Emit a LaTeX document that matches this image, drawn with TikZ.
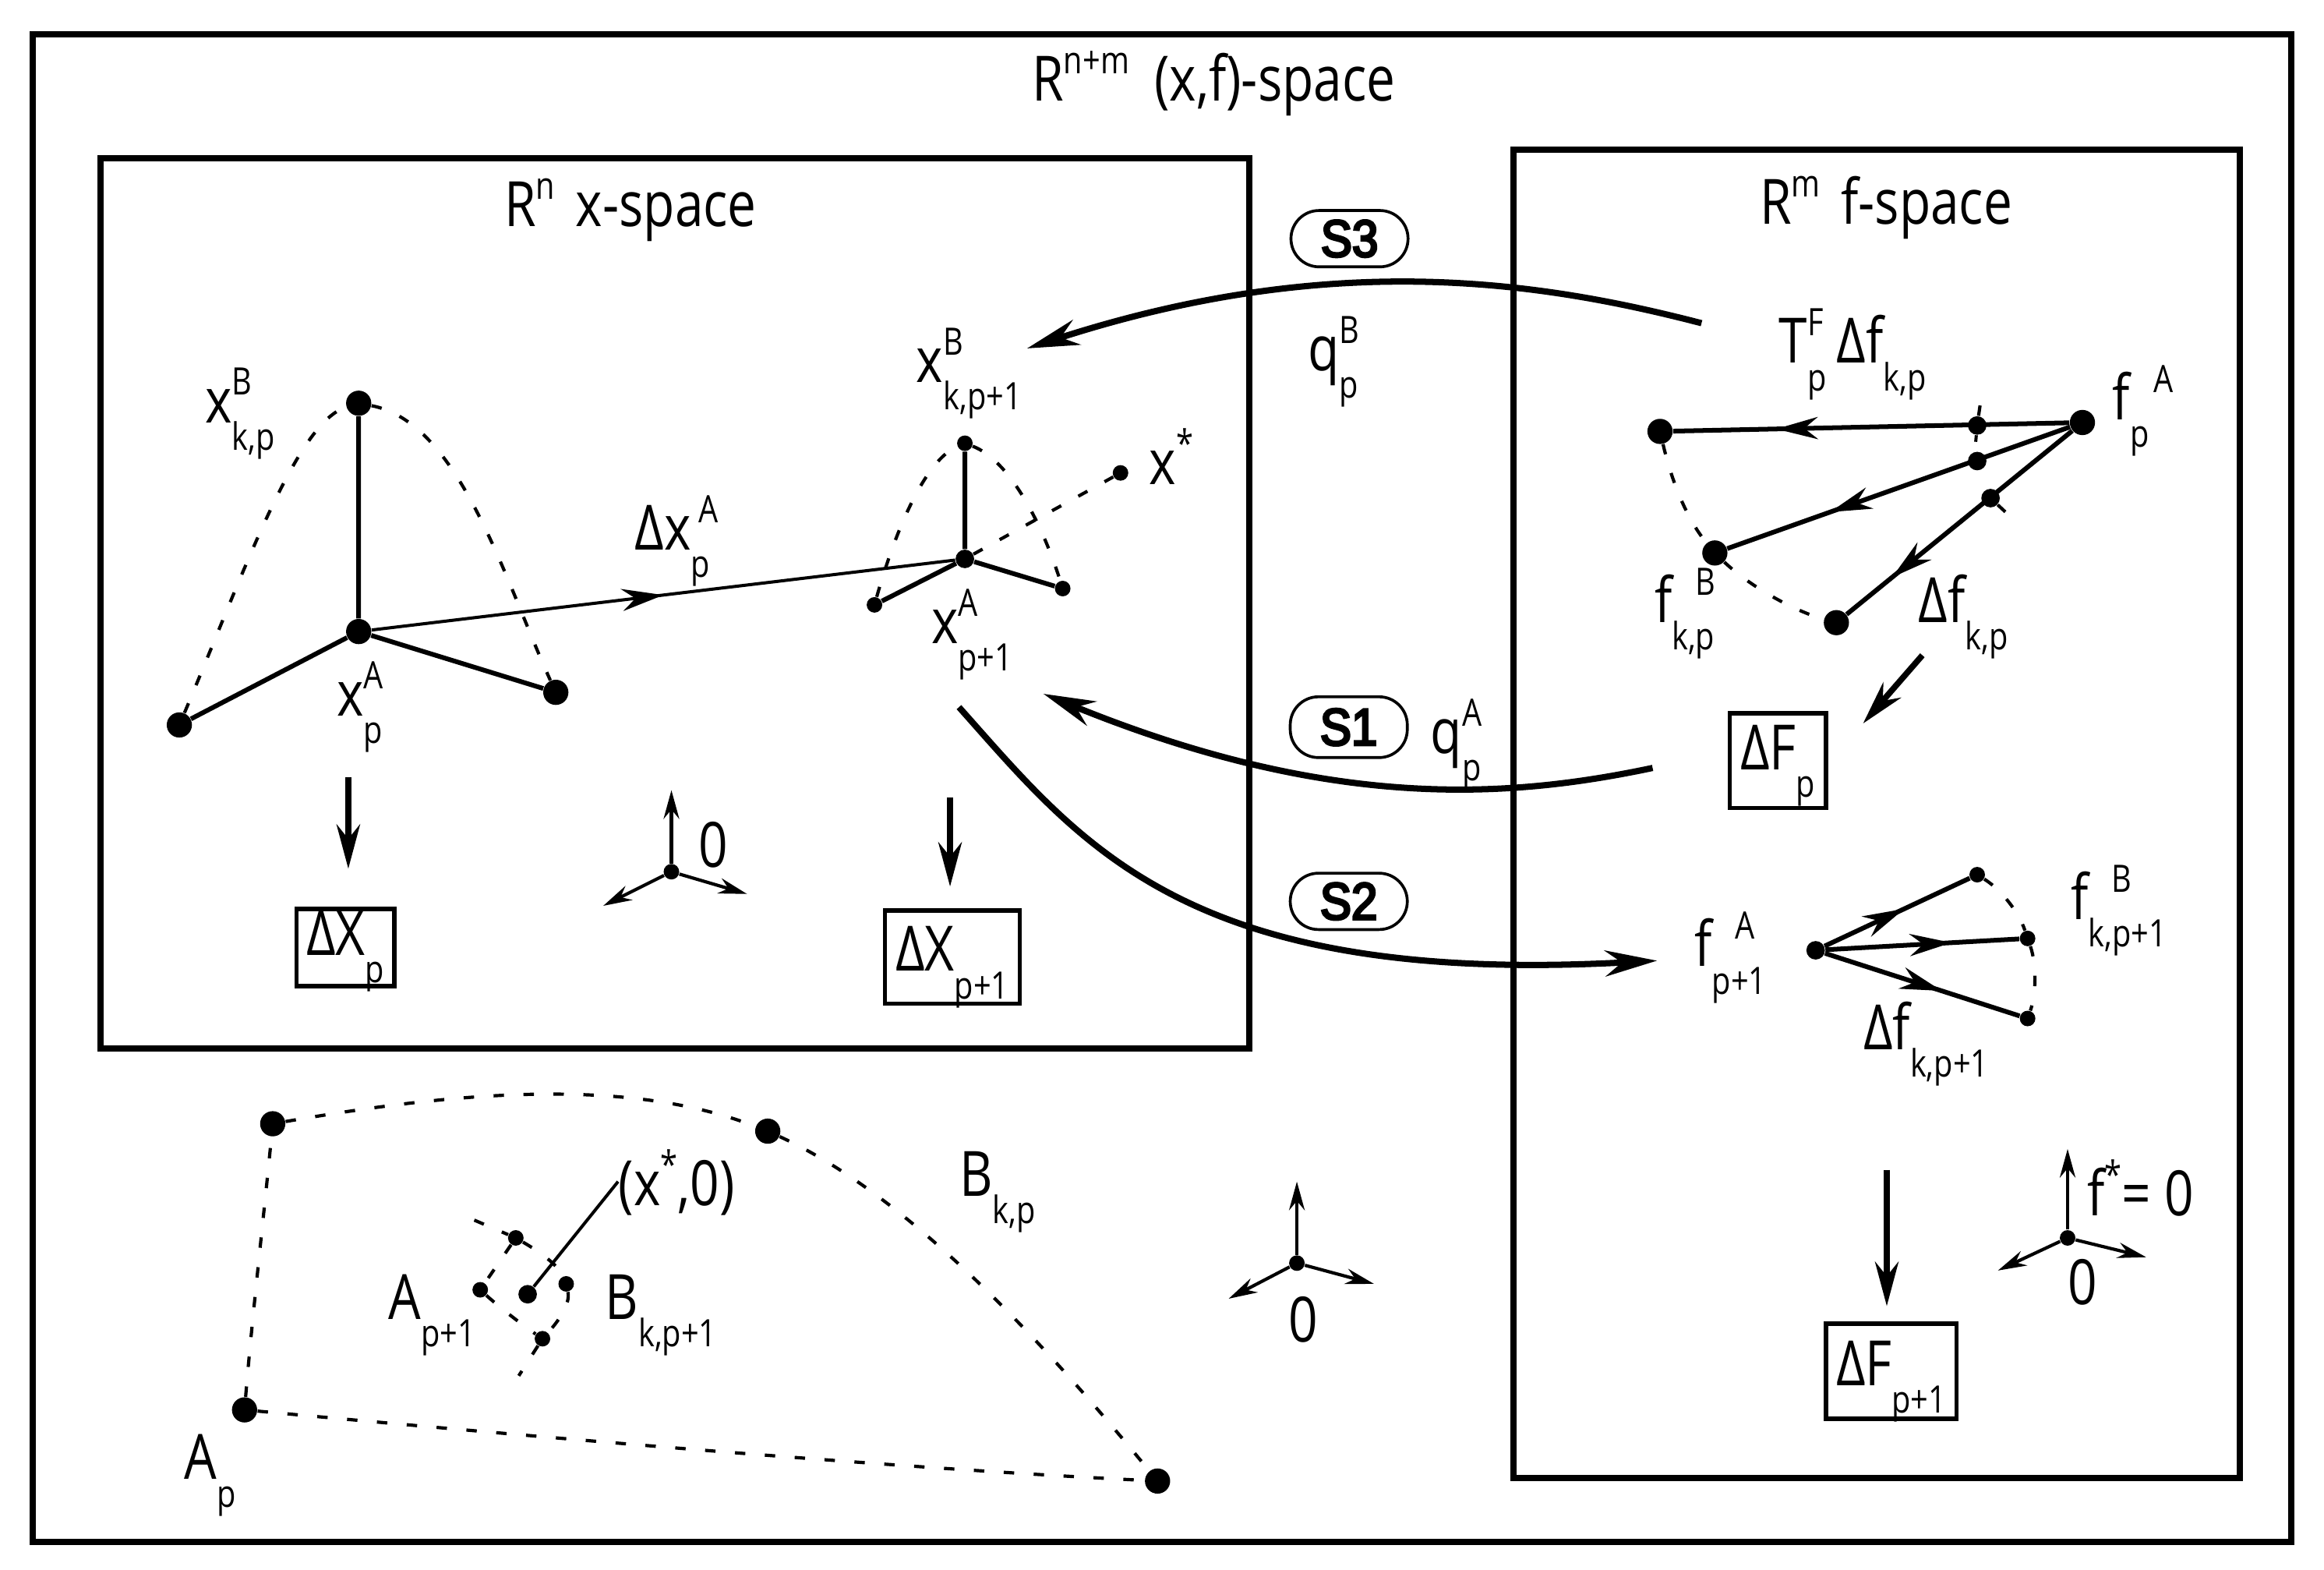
\documentclass[tikz,border=0pt]{standalone}
\usepackage{fontspec}
\setmainfont[FakeStretch=0.82]{Open Sans}
\newfontfamily\pillf[FakeStretch=0.9,FakeBold=4.5]{Liberation Sans}
\usetikzlibrary{arrows.meta,decorations.markings,calc}
\newcommand{\bigfs}{\fontsize{24}{24}\selectfont}
\newcommand{\smfs}{\fontsize{14.5}{14.5}\selectfont}
\newcommand{\lab}[4][0pt]{#2\rlap{\hspace{#1}\raisebox{10.5pt}{\smfs #3}}\raisebox{-10.5pt}{\smfs #4}}
\newcommand{\boxtxt}[2]{\raisebox{-#1}[0pt][0pt]{#2}}
\tikzset{
 x=0.02cm,y=-0.02cm,
 txt/.style={inner sep=0pt,anchor=base west,font=\bigfs},
 frame/.style={draw,line width=2.4pt,inner sep=0pt},
 tbox/.style={draw,line width=1.7pt,inner sep=0pt,font=\bigfs,align=center},
 pill/.style={draw,line width=1.1pt,rounded corners=0.38cm,minimum width=1.58cm,minimum height=0.76cm,inner sep=0pt,font=\fontsize{20}{20}\pillf},
 dotL/.style={circle,fill=black,inner sep=0pt,minimum size=0.34cm},
 dotM/.style={circle,fill=black,inner sep=0pt,minimum size=0.25cm},
 dotS/.style={circle,fill=black,inner sep=0pt,minimum size=0.21cm},
 dash7/.style={line width=1.25pt,dash pattern=on 4pt off 7.5pt},
 legline/.style={line width=1.8pt},
 thin1/.style={line width=1.2pt},
 midarrow/.style={postaction={decorate},decoration={markings,mark=at position #1 with {\arrow{Stealth[length=16pt,width=8.5pt]}}}},
 bigcurve/.style={line width=2.4pt,-{Stealth[length=20pt,width=10pt]}},
 downarrow/.style={line width=2.3pt,-{Stealth[length=17pt,width=9pt]}},
 axis/.style={line width=1.25pt,-{Stealth[length=11pt,width=6pt]}},
}
\begin{document}
\begin{tikzpicture}
\useasboundingbox (0,0) rectangle (1568,1058.5);
% frames
\node[frame,minimum width=1524*0.02cm,minimum height=1017*0.02cm] (outer) at (784,531.5) {};
\node[frame,minimum width=775*0.02cm,minimum height=600*0.02cm] (xsp) at (455.5,407) {};
\node[frame,minimum width=490*0.02cm,minimum height=896*0.02cm] (fsp) at (1266,549) {};
% titles
\node[txt] (t0) at (696,68) {R\raisebox{10.5pt}{\smfs n+m}\hspace{0.4em}(x,f)-space};
\node[txt] (t1) at (340,153) {R\raisebox{10.5pt}{\smfs n}\hspace{0.33em}x-space};
\node[txt] (t2) at (1187,151) {R\raisebox{10.5pt}{\smfs m}\hspace{0.33em}f-space};
% x simplex p
\node[dotL] (xa) at (242,426) {};
\node[dotL] (xt) at (242,272) {};
\node[dotL] (xl) at (121,489) {};
\node[dotL] (xr) at (375,467) {};
\draw[legline] (xa)--(xt) (xa)--(xl) (xa)--(xr);
\draw[dash7] (xl) .. controls (165,385) and (200,285) .. (xt);
\draw[dash7] (xt) .. controls (310,285) and (340,390) .. (xr);
% x simplex p+1
\node[dotM] (ya) at (651,377) {};
\node[dotS] (yt) at (651,299) {};
\node[dotS] (yl) at (590,408) {};
\node[dotS] (yr) at (717,397) {};
\node[dotS] (xs) at (756,319) {};
\draw[legline] (ya)--(yt) (ya)--(yl) (ya)--(yr);
\draw[dash7] (yl) .. controls (605,355) and (625,310) .. (yt);
\draw[dash7] (yt) .. controls (680,310) and (702,350) .. (yr);
\draw[dash7] (ya)--(xs);
\draw[thin1,midarrow=0.5] (xa)--(ya);
% x labels
\node[txt] (l1) at (138,285) {\lab{x}{B}{k,p}};
\node[txt] (l2) at (227,483) {\lab{x}{A}{p}};
\node[txt] (l3) at (428,371) {\lab[3pt]{Δx}{A}{p}};
\node[txt] (l4) at (618,258) {\lab{x}{B}{k,p+1}};
\node[txt] (l5) at (628,434) {\lab{x}{A}{p+1}};
\node[txt] (l6) at (775,327) {x\raisebox{10.5pt}{\smfs *}};
% boxes x
\coordinate (d1a) at (235,524); \coordinate (d1b) at (235,586);
\coordinate (d2a) at (641,538); \coordinate (d2b) at (641,598);
\draw[downarrow] (d1a)--(d1b);
\draw[downarrow] (d2a)--(d2b);
\node[tbox,minimum width=66*0.02cm,minimum height=52*0.02cm] (bx1) at (233,639) {\boxtxt{3pt}{\lab{ΔX}{}{p}}};
\node[tbox,minimum width=91*0.02cm,minimum height=63*0.02cm] (bx2) at (642.5,645.5) {\boxtxt{5.5pt}{\lab{ΔX}{}{p+1}}};
% axes 0 in x
\node[dotS] (o1) at (453,588) {};
\coordinate (o1u) at (453,533); \coordinate (o1l) at (407,611); \coordinate (o1r) at (504,603);
\draw[axis] (o1)--(o1u); \draw[axis] (o1)--(o1l); \draw[axis] (o1)--(o1r);
\node[txt] (l7) at (471,585) {0};
% S labels
\node[pill] (s3) at (910.5,161) {S3};
\node[pill,minimum height=0.82cm] (s1) at (910,490.5) {S1};
\node[pill] (s2) at (910,608) {S2};
% big curves
\coordinate (c3a) at (1148,218); \coordinate (c3b) at (693,235);
\coordinate (c1a) at (1115,518); \coordinate (c1b) at (704,468);
\coordinate (c2a) at (647,477); \coordinate (c2b) at (1118,648);
\draw[bigcurve] (c3a) .. controls (1040,190) and (900,168) .. (c3b);
\draw[bigcurve] (c1a) .. controls (1020,538) and (900,548) .. (c1b);
\draw[bigcurve] (c2a) .. controls (730,570) and (800,665) .. (c2b);
\node[txt] (q1) at (882,250) {\lab{q}{B}{p}};
\node[txt] (q2) at (965,508) {\lab{q}{A}{p}};
% f simplex p
\node[dotL] (fa) at (1405,285) {};
\node[dotL] (f1) at (1120,291) {};
\node[dotL] (f2) at (1157,373) {};
\node[dotL] (f3) at (1239,420) {};
\node[dotM] (m1) at (1334,287) {};
\node[dotM] (m2) at (1334,311) {};
\node[dotM] (m3) at (1343,336) {};
\draw[legline,midarrow=0.74] (fa)--(f1);
\draw[legline,midarrow=0.7] (fa)--(f2);
\draw[legline,midarrow=0.8] (fa)--(f3);
\draw[dash7] (f1) .. controls (1128,325) and (1138,350) .. (f2);
\draw[dash7] (f2) .. controls (1180,395) and (1210,412) .. (f3);
\coordinate (e1) at (1337,266); \coordinate (e2) at (1358,350); \coordinate (e3) at (1333,298);
\draw[dash7] (m1)--(e1);
\draw[thin1] (m1)--(e3);
\draw[dash7] (m3)--(e2);
\node[txt] (l8) at (1200,245) {\lab{T}{F}{p}\hspace{4pt}\lab{Δf}{}{k,p}};
\node[txt] (l9) at (1425,283) {\lab[9pt]{f}{A}{p}};
\node[txt] (l10) at (1116,420) {\lab[9pt]{f}{B}{k,p}};
\node[txt] (l11) at (1294,420) {\lab{Δf}{}{k,p}};
\coordinate (d3a) at (1297,442); \coordinate (d3b) at (1257,488);
\draw[downarrow] (d3a)--(d3b);
\node[tbox,minimum width=65*0.02cm,minimum height=64*0.02cm] (bf1) at (1199.5,513) {\boxtxt{3.5pt}{\lab{ΔF}{}{p}}};
% f simplex p+1
\node[dotM] (ga) at (1225,641) {};
\node[dotS] (g1) at (1334,590) {};
\node[dotS] (g2) at (1368,633) {};
\node[dotS] (g3) at (1368,687) {};
\draw[legline,midarrow=0.55] (ga)--(g1);
\draw[legline,midarrow=0.65] (ga)--(g2);
\draw[legline,midarrow=0.6] (ga)--(g3);
\draw[dash7] (g1) .. controls (1350,600) and (1362,615) .. (g2);
\draw[dash7] (g2) .. controls (1374,650) and (1374,670) .. (g3);
\node[txt] (l12) at (1143,652) {\lab[9pt]{f}{A}{p+1}};
\node[txt] (l13) at (1397,620) {\lab[9pt]{f}{B}{k,p+1}};
\node[txt] (l14) at (1257,708) {\lab{Δf}{}{k,p+1}};
\coordinate (d4a) at (1273,789); \coordinate (d4b) at (1273,881);
\draw[downarrow] (d4a)--(d4b);
\node[tbox,minimum width=88*0.02cm,minimum height=64*0.02cm] (bf2) at (1276,925) {\boxtxt{5.5pt}{\lab{ΔF}{}{p+1}}};
\node[dotS] (o3) at (1395,835) {};
\coordinate (o3u) at (1395,775); \coordinate (o3l) at (1348,857); \coordinate (o3r) at (1448,848);
\draw[axis] (o3)--(o3u); \draw[axis] (o3)--(o3l); \draw[axis] (o3)--(o3r);
\node[txt] (l15) at (1408,820) {f\raisebox{10.5pt}{\smfs *}= 0};
\node[txt] (l16) at (1395,880) {0};
% middle axes
\node[dotS] (o2) at (875,852) {};
\coordinate (o2u) at (875,797); \coordinate (o2l) at (829,876); \coordinate (o2r) at (927,866);
\draw[axis] (o2)--(o2u); \draw[axis] (o2)--(o2l); \draw[axis] (o2)--(o2r);
\node[txt] (l17) at (869,905) {0};
% bottom region
\node[dotL] (a1) at (184,758) {};
\node[dotL] (a2) at (518,763) {};
\node[dotL] (a3) at (781,999) {};
\node[dotL] (a4) at (165,951) {};
\draw[dash7] (a1) .. controls (300,738) and (420,725) .. (a2);
\draw[dash7] (a2) .. controls (610,805) and (700,900) .. (a3);
\draw[dash7] (a4) .. controls (370,970) and (600,990) .. (a3);
\draw[dash7] (a4) .. controls (170,890) and (178,820) .. (a1);
\node[dotS] (b1) at (348,835) {};
\node[dotS] (b2) at (324,870) {};
\node[dotM] (b0) at (356,873) {};
\node[dotS] (b3) at (382,866) {};
\node[dotS] (b4) at (366,903) {};
\coordinate (be1) at (320,823); \coordinate (be2) at (350,928); \coordinate (lp) at (417,797);
\draw[dash7] (be1)--(b1);
\draw[dash7] (b1) .. controls (360,842) and (376,852) .. (b3);
\draw[dash7] (b3) .. controls (385,880) and (376,892) .. (b4);
\draw[dash7] (b4)--(be2);
\draw[dash7] (b1)--(b2);
\draw[dash7] (b2) .. controls (335,880) and (350,892) .. (b4);
\draw[thin1] (b0)--(lp);
\node[txt] (l18) at (417,813) {(x\raisebox{10.5pt}{\smfs *},0)};
\node[txt] (l19) at (262,890) {\lab{A}{}{p+1}};
\node[txt] (l20) at (408,890) {\lab{B}{}{k,p+1}};
\node[txt] (l21) at (124,998) {\lab{A}{}{p}};
\node[txt] (l22) at (647,807) {\lab{B}{}{k,p}};
\end{tikzpicture}
\end{document}
